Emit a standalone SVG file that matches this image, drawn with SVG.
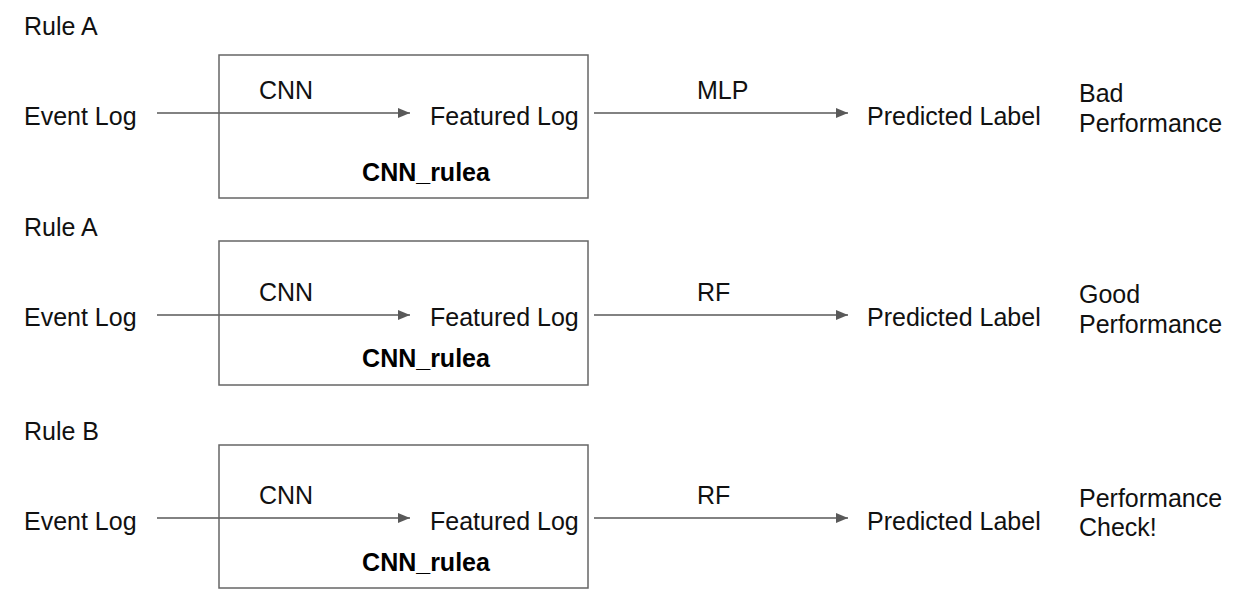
<svg xmlns="http://www.w3.org/2000/svg" width="1243" height="611" viewBox="0 0 1243 611">
<defs>
<marker id="arr" viewBox="0 0 12 10" refX="12" refY="5" markerWidth="12" markerHeight="10" markerUnits="userSpaceOnUse" orient="auto">
<path d="M0,0 L12,5 L0,10 z" fill="#595959"/>
</marker>
<style>
text{font-family:"Liberation Sans",Arial,sans-serif;font-size:25px;fill:#111}
.b{font-weight:bold;text-anchor:middle;font-size:25px;fill:#000}
.box{fill:none;stroke:#666;stroke-width:1.5}
.ln{stroke:#595959;stroke-width:1.3;fill:none;marker-end:url(#arr)}
</style>
</defs>
<rect width="1243" height="611" fill="#fff"/>
<g id="connectors">
<path class="ln" d="M157,113 H410"/>
<path class="ln" d="M594,113 H848"/>
<path class="ln" d="M157,315 H410"/>
<path class="ln" d="M594,315 H848"/>
<path class="ln" d="M157,518 H410"/>
<path class="ln" d="M594,518 H848"/>
</g>
<g id="row1">
<text x="24" y="35">Rule A</text>
<g id="box1"><rect class="box" x="219" y="55" width="369" height="143"/><text class="b" x="426" y="181">CNN_rulea</text></g>
<g id="event1"><text x="24" y="125">Event Log</text></g>
<text x="259" y="99">CNN</text>
<g id="feat1"><text x="430" y="125">Featured Log</text></g>
<text x="697" y="99">MLP</text>
<g id="pred1"><text x="867" y="125">Predicted Label</text></g>
<g id="note1"><text x="1079" y="102">Bad</text><text x="1079" y="132">Performance</text></g>
</g>
<g id="row2">
<text x="24" y="236">Rule A</text>
<g id="box2"><rect class="box" x="219" y="241" width="369" height="144"/><text class="b" x="426" y="367">CNN_rulea</text></g>
<g id="event2"><text x="24" y="326">Event Log</text></g>
<text x="259" y="301">CNN</text>
<g id="feat2"><text x="430" y="326">Featured Log</text></g>
<text x="697" y="301">RF</text>
<g id="pred2"><text x="867" y="326">Predicted Label</text></g>
<g id="note2"><text x="1079" y="303">Good</text><text x="1079" y="333">Performance</text></g>
</g>
<g id="row3">
<text x="24" y="440">Rule B</text>
<g id="box3"><rect class="box" x="219" y="445" width="369" height="143"/><text class="b" x="426" y="571">CNN_rulea</text></g>
<g id="event3"><text x="24" y="530">Event Log</text></g>
<text x="259" y="504">CNN</text>
<g id="feat3"><text x="430" y="530">Featured Log</text></g>
<text x="697" y="504">RF</text>
<g id="pred3"><text x="867" y="530">Predicted Label</text></g>
<g id="note3"><text x="1079" y="507">Performance</text><text x="1079" y="536">Check!</text></g>
</g>
</svg>
